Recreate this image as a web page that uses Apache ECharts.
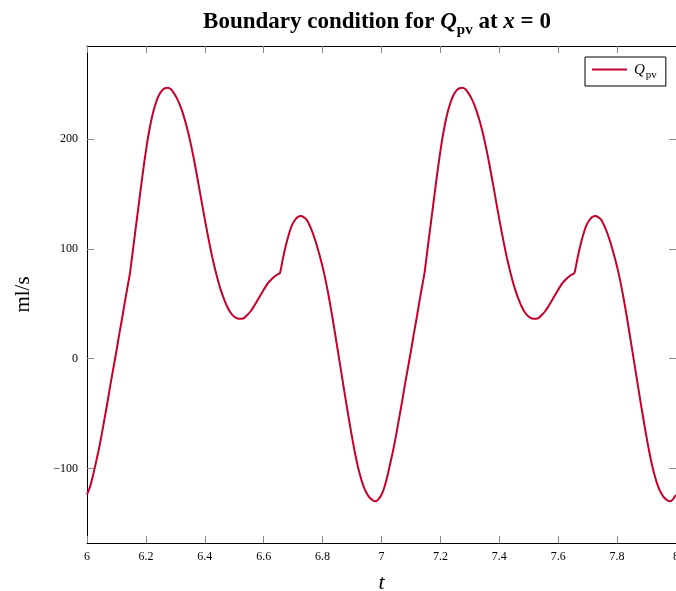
<!DOCTYPE html>
<html>
<head>
<meta charset="utf-8">
<script src="https://cdn.jsdelivr.net/npm/echarts@6/dist/echarts.min.js"></script>
<style>html,body{margin:0;padding:0;background:#fff;width:100%;height:100%;overflow:hidden;}#c{width:676px;height:591px;}</style>
</head>
<body>
<div id="c"></div>
<script>
const tValues = [
6.000,6.010,6.020,6.030,6.040,6.050,6.060,6.070,6.080,6.090,6.100,6.110,6.120,6.130,6.140,6.146,
6.155,6.165,6.175,6.185,6.195,6.205,6.215,6.225,6.235,6.245,6.255,6.265,6.275,6.285,6.295,6.305,
6.315,6.325,6.335,6.345,6.355,6.365,6.375,6.385,6.395,6.405,6.415,6.425,6.435,6.445,6.455,6.465,
6.475,6.485,6.495,6.505,6.515,6.525,6.535,6.545,6.555,6.565,6.575,6.585,6.595,6.605,6.615,6.625,
6.635,6.645,6.655,6.665,6.675,6.685,6.695,6.705,6.715,6.727,6.745,6.760,6.775,6.790,6.805,6.820,
6.835,6.850,6.865,6.880,6.895,6.910,6.925,6.940,6.955,6.970,6.980,6.990,
7.000,7.010,7.020,7.030,7.040,7.050,7.060,7.070,7.080,7.090,7.100,7.110,7.120,7.130,7.140,7.146,
7.155,7.165,7.175,7.185,7.195,7.205,7.215,7.225,7.235,7.245,7.255,7.265,7.275,7.285,7.295,7.305,
7.315,7.325,7.335,7.345,7.355,7.365,7.375,7.385,7.395,7.405,7.415,7.425,7.435,7.445,7.455,7.465,
7.475,7.485,7.495,7.505,7.515,7.525,7.535,7.545,7.555,7.565,7.575,7.585,7.595,7.605,7.615,7.625,
7.635,7.645,7.655,7.665,7.675,7.685,7.695,7.705,7.715,7.727,7.745,7.760,7.775,7.790,7.805,7.820,
7.835,7.850,7.865,7.880,7.895,7.910,7.925,7.940,7.955,7.970,7.980,7.990,
8.000
];
const qValues = [
-124,-117,-107,-95,-83,-69,-54,-39,-23,-8,7,23,38,54,69,78,
97,118,139,160,180,198,213,225,234,240.5,244.5,246.5,247,245.5,242,237.5,
231.5,224,215,204.5,192.5,179,164.5,149.5,134.5,120,106,93,81.5,71,62,54.5,
48,43,39.5,37.5,36.5,36.5,37.5,40,43,47,51.5,56,60.5,65,69,72,
74.5,76.5,78,91,103,113,121,126,129,130,127,119,108,94,78,58,
35,10,-15,-40,-64,-86,-104,-117,-125,-129,-130,-128,
-124,-117,-107,-95,-83,-69,-54,-39,-23,-8,7,23,38,54,69,78,
97,118,139,160,180,198,213,225,234,240.5,244.5,246.5,247,245.5,242,237.5,
231.5,224,215,204.5,192.5,179,164.5,149.5,134.5,120,106,93,81.5,71,62,54.5,
48,43,39.5,37.5,36.5,36.5,37.5,40,43,47,51.5,56,60.5,65,69,72,
74.5,76.5,78,91,103,113,121,126,129,130,127,119,108,94,78,58,
35,10,-15,-40,-64,-86,-104,-117,-125,-129,-130,-128,
-124
];
const xTicks = [6, 6.2, 6.4, 6.6, 6.8, 7, 7.2, 7.4, 7.6, 7.8, 8];
const yTicks = [-100, 0, 100, 200];
const seriesName = 'Qpv';

const serif = '"Liberation Serif","DejaVu Serif",serif';
const lineColor = '#c4002b';
const data = tValues.map((t, i) => [t, qValues[i]]);

const chart = echarts.init(document.getElementById('c'), null, {renderer: 'canvas', width: 676, height: 591});
const tickStyle = {show: true, inside: true, length: 7, lineStyle: {color: '#888', width: 1}};
const axisLineStyle = {show: true, onZero: false, lineStyle: {color: '#000', width: 1}};
chart.setOption({
  animation: false,
  backgroundColor: '#fff',
  title: {
    text: '{b|Boundary condition for }{q|Q}{s|pv}{b| at }{x|x}{e| = 0}',
    left: 372, top: 2, textAlign: 'center',
    textStyle: {
      rich: {
        b: {fontFamily: serif, fontWeight: 'bold', fontSize: 23, color: '#000', lineHeight: 27, verticalAlign: 'bottom'},
        q: {fontFamily: serif, fontStyle: 'italic', fontSize: 23, color: '#000', lineHeight: 27, verticalAlign: 'bottom'},
        s: {fontFamily: serif, fontWeight: 'bold', fontSize: 15, color: '#000', lineHeight: 20, verticalAlign: 'bottom', padding: [0,0,-4,0]},
        x: {fontFamily: serif, fontStyle: 'italic', fontSize: 23, color: '#000', lineHeight: 27, verticalAlign: 'bottom'},
        e: {fontFamily: serif, fontSize: 23, color: '#000', lineHeight: 27, verticalAlign: 'bottom'}
      }
    }
  },
  legend: {
    data: [seriesName],
    left: 585, top: 57,
    orient: 'vertical',
    backgroundColor: '#fff',
    borderColor: '#000', borderWidth: 1, borderRadius: 0,
    padding: [6, 9, 5, 7],
    icon: 'rect', itemWidth: 35, itemHeight: 2, itemGap: 5,
    formatter: () => '{q|Q}{s|pv}',
    textStyle: {
      rich: {
        q: {fontFamily: serif, fontStyle: 'italic', fontSize: 15, color: '#000', lineHeight: 17, verticalAlign: 'bottom', padding: [0,0,0,2]},
        s: {fontFamily: serif, fontSize: 11, color: '#000', lineHeight: 14, verticalAlign: 'bottom', padding: [0,0,-3,1]}
      }
    }
  },
  grid: {left: 87, right: 0, top: 46, bottom: 48, containLabel: false, outerBoundsMode: 'none'},
  xAxis: [{
    type: 'value', min: 6, max: 8, position: 'bottom',
    axisLine: axisLineStyle,
    axisTick: Object.assign({customValues: xTicks}, tickStyle),
    axisLabel: {customValues: xTicks, fontFamily: serif, fontSize: 12, color: '#000', margin: 8, showMinLabel: true, showMaxLabel: true,
      formatter: v => String(Math.round(v * 10) / 10)},
    splitLine: {show: false},
    name: 't', nameLocation: 'middle', nameGap: 29,
    nameTextStyle: {fontFamily: serif, fontStyle: 'italic', fontSize: 22, color: '#000'}
  }, {
    type: 'value', min: 6, max: 8, position: 'top',
    axisLine: axisLineStyle,
    axisTick: Object.assign({customValues: xTicks}, tickStyle),
    axisLabel: {show: false},
    splitLine: {show: false}
  }],
  yAxis: [{
    type: 'value', min: -168, max: 285, position: 'left',
    axisLine: axisLineStyle,
    axisTick: Object.assign({customValues: yTicks}, tickStyle),
    axisLabel: {customValues: yTicks, fontFamily: serif, fontSize: 12, color: '#000', margin: 9,
      formatter: v => (v < 0 ? '\u2212' + Math.abs(v) : String(v))},
    splitLine: {show: false},
    name: 'ml/s', nameLocation: 'middle', nameGap: 53, nameRotate: 90,
    nameTextStyle: {fontFamily: serif, fontSize: 21, color: '#000'}
  }, {
    type: 'value', min: -168, max: 285, position: 'right',
    axisLine: axisLineStyle,
    axisTick: Object.assign({customValues: yTicks}, tickStyle),
    axisLabel: {show: false},
    splitLine: {show: false}
  }],
  series: [{
    name: seriesName,
    type: 'line',
    xAxisIndex: 0, yAxisIndex: 0,
    data: data,
    showSymbol: false, symbol: 'none',
    smooth: 0.2,
    clip: true,
    lineStyle: {color: lineColor, width: 2},
    itemStyle: {color: lineColor}
  }]
});
</script>
</body>
</html>
